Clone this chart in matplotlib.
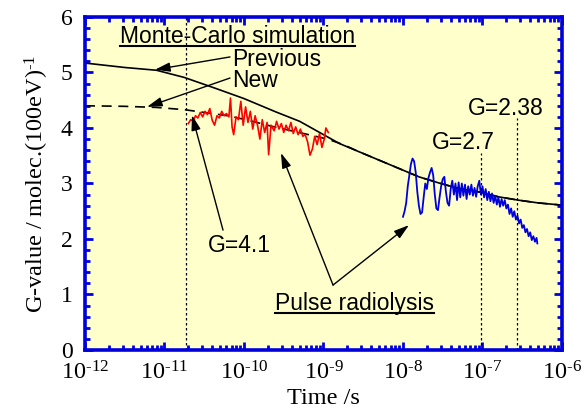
import numpy as np
import matplotlib
matplotlib.use("Agg")
import matplotlib.pyplot as plt
from matplotlib.ticker import LogLocator, MultipleLocator, FuncFormatter

plt.rcParams["font.family"] = ["Liberation Serif"]
plt.rcParams["mathtext.fontset"] = "custom"
plt.rcParams["mathtext.rm"] = "Liberation Serif"
plt.rcParams["mathtext.it"] = "Liberation Serif:italic"
plt.rcParams["axes.unicode_minus"] = False

# Monte-Carlo simulation curves (log10 of time, G-value)
prev_exp = [-12, -11.5, -11.1, -10.75, -10.35, -10.0, -9.6, -9.3, -9.05, -8.8, -8.55,
            -8.3, -8.05, -7.8, -7.55, -7.3, -7.05, -6.8, -6.55, -6.3, -6.0]
prev_g = [5.17, 5.09, 5.04, 4.91, 4.71, 4.53, 4.29, 4.12, 3.92, 3.72, 3.57,
          3.42, 3.27, 3.12, 3.01, 2.91, 2.85, 2.76, 2.70, 2.65, 2.61]

new_exp = [-12, -11.5, -11.1, -10.75, -10.5, -10.2, -9.95, -9.65, -9.25, -8.95, -8.75,
           -8.55, -8.3, -8.05, -7.8, -7.55, -7.3, -7.05, -6.8, -6.55, -6.3, -6.0]
new_g = [4.40, 4.39, 4.37, 4.33, 4.28, 4.22, 4.14, 4.03, 3.90, 3.80, 3.70,
         3.57, 3.42, 3.27, 3.12, 3.01, 2.91, 2.85, 2.76, 2.70, 2.65, 2.61]

# pulse radiolysis, ps range (red)
red_exp = [-10.70, -10.67, -10.64, -10.61, -10.58, -10.55, -10.52, -10.49, -10.46, -10.43,
           -10.40, -10.37, -10.34, -10.31, -10.28, -10.25, -10.22, -10.19, -10.17, -10.15,
           -10.13, -10.10, -10.07, -10.04, -10.01, -9.98, -9.95, -9.92, -9.89, -9.86,
           -9.83, -9.80, -9.77, -9.74, -9.71, -9.69, -9.66, -9.62, -9.59, -9.56,
           -9.53, -9.50, -9.47, -9.44, -9.41, -9.38, -9.35, -9.32, -9.29, -9.26,
           -9.23, -9.20, -9.17, -9.14, -9.11, -9.08, -9.05, -9.02, -8.99, -8.97, -8.94]
red_g = [4.08, 4.15, 4.12, 4.22, 4.18, 4.28, 4.20, 4.30, 4.24, 4.35,
         4.14, 4.05, 4.22, 4.18, 4.30, 4.22, 4.26, 4.20, 4.54, 4.02,
         3.88, 4.20, 4.15, 4.48, 4.05, 4.38, 4.10, 4.30, 3.98, 4.22,
         4.05, 3.80, 4.15, 3.92, 4.10, 3.52, 4.05, 3.95, 4.12, 3.98,
         4.08, 3.92, 4.05, 3.95, 4.10, 3.90, 4.02, 3.88, 3.98, 3.85,
         3.88, 3.75, 3.51, 3.62, 3.85, 3.70, 3.90, 3.65, 3.80, 4.00, 3.92]

# pulse radiolysis, ns range (blue)
blue_exp = [-8.00, -7.98, -7.96, -7.94, -7.92, -7.90, -7.88, -7.86, -7.84, -7.82,
            -7.80, -7.78, -7.76, -7.74, -7.72, -7.70, -7.68, -7.66, -7.64, -7.62,
            -7.60, -7.58, -7.56, -7.54, -7.52, -7.50, -7.48, -7.46, -7.44, -7.42,
            -7.40, -7.38, -7.36, -7.34, -7.32, -7.30, -7.28, -7.26, -7.24, -7.22,
            -7.20, -7.18, -7.16, -7.14, -7.12, -7.10, -7.08, -7.06, -7.04, -7.02,
            -7.00, -6.98, -6.96, -6.94, -6.92, -6.90, -6.88, -6.86, -6.84, -6.82,
            -6.80, -6.78, -6.76, -6.74, -6.72, -6.70, -6.68, -6.66, -6.64, -6.62,
            -6.60, -6.58, -6.56, -6.54, -6.52, -6.50, -6.48, -6.46, -6.44, -6.42,
            -6.40, -6.38, -6.36, -6.34, -6.32, -6.31]
blue_g = [2.40, 2.50, 2.65, 2.95, 3.15, 3.35, 3.45, 3.40, 3.20, 2.85,
          2.60, 2.45, 2.48, 2.75, 3.00, 2.90, 3.10, 3.20, 3.28, 3.15,
          2.80, 2.55, 2.52, 2.75, 2.95, 3.08, 3.12, 2.85, 2.65, 2.60,
          2.90, 3.05, 2.80, 3.00, 2.70, 3.02, 2.75, 3.00, 2.78, 2.98,
          2.72, 2.95, 2.80, 2.98, 2.78, 2.92, 2.76, 2.95, 3.05, 2.80,
          2.95, 2.75, 2.90, 2.70, 2.85, 2.68, 2.82, 2.65, 2.78, 2.62,
          2.75, 2.58, 2.72, 2.60, 2.70, 2.55, 2.62, 2.45, 2.55, 2.40,
          2.50, 2.35, 2.42, 2.28, 2.35, 2.20, 2.25, 2.12, 2.18, 2.05,
          2.12, 1.98, 2.05, 1.95, 2.02, 1.92]

# marker times for G values
t_start = 1.85e-11
t_g27 = 9.5e-8
t_g238 = 2.75e-7

fig = plt.figure(figsize=(5.87, 4.12), dpi=100)
ax = fig.add_axes([0.1448, 0.1505, 0.8126, 0.8083])
ax.set_facecolor("#FFFFCC")

ax.plot(10.0 ** np.array(prev_exp), prev_g, color="k", lw=1.2)
ax.plot(10.0 ** np.array(new_exp), new_g, color="k", lw=1.2, dashes=(6, 4))
ax.plot(10.0 ** np.array(red_exp), red_g, color="#FF0000", lw=1.2)
ax.plot(10.0 ** np.array(blue_exp), blue_g, color="#0000DD", lw=1.3)

ax.axvline(t_start, color="k", lw=0.9, ls=(0, (2, 2)))
ax.plot([t_g27, t_g27], [0, 3.55], color="k", lw=0.9, ls=(0, (2, 2)))
ax.plot([t_g238, t_g238], [0, 4.18], color="k", lw=0.9, ls=(0, (2, 2)))

ax.set_xscale("log")
ax.set_xlim(1e-12, 1e-6)
ax.set_ylim(0, 6)
ax.xaxis.set_major_locator(LogLocator(base=10, numticks=10))
ax.xaxis.set_minor_locator(LogLocator(base=10, subs=np.arange(2, 10), numticks=10))
ax.xaxis.set_major_formatter(FuncFormatter(lambda v, p: r"10$^{\text{%d}}$" % round(np.log10(v))))
ax.yaxis.set_major_locator(MultipleLocator(1))
ax.yaxis.set_minor_locator(MultipleLocator(0.2))

blue = "#0000DD"
for s in ax.spines.values():
    s.set_color(blue)
    s.set_linewidth(2.6)
ax.tick_params(which="both", direction="in", top=True, right=True, color=blue)
ax.tick_params(which="major", length=6, width=2.0)
ax.tick_params(which="minor", length=3.5, width=2.0)
ax.tick_params(axis="x", which="major", labelsize=17.5, pad=8)
ax.tick_params(axis="y", which="major", labelsize=17, pad=9)

ax.set_xlabel("Time /s", fontsize=17.5, labelpad=3)
ax.set_ylabel("G-value / molec.(100eV)$^{\\text{-1}}$", fontsize=17.5, labelpad=7)

sans = "Liberation Sans"
fs = 16.5
t_mc = ax.text(10 ** -11.56, 5.53, "Monte-Carlo simulation", fontsize=fs, family=sans, va="baseline")
ax.text(10 ** -10.15, 5.11, "Previous", fontsize=fs, family=sans, va="baseline")
ax.text(10 ** -10.15, 4.73, "New", fontsize=fs, family=sans, va="baseline")
ax.text(10 ** -10.453, 1.77, "G=4.1", fontsize=fs, family=sans, va="baseline")
t_pr = ax.text(10 ** -9.61, 0.72, "Pulse radiolysis", fontsize=fs, family=sans, va="baseline")
ax.text(10 ** -7.635, 3.63, "G=2.7", fontsize=fs, family=sans, va="baseline")
ax.text(10 ** -7.18, 4.23, "G=2.38", fontsize=fs, family=sans, va="baseline")

arrow = dict(arrowstyle="-|>,head_length=0.65,head_width=0.2", color="k", lw=1.0,
             shrinkA=0, shrinkB=0, mutation_scale=14)
ax.annotate("", xy=(10 ** -11.12, 5.05), xytext=(10 ** -10.176, 5.28), arrowprops=arrow)
ax.annotate("", xy=(10 ** -11.22, 4.38), xytext=(10 ** -10.176, 4.90), arrowprops=arrow)
ax.annotate("", xy=(10 ** -10.654, 4.23), xytext=(10 ** -10.264, 2.16), arrowprops=arrow)
ax.annotate("", xy=(10 ** -7.925, 2.25), xytext=(10 ** -8.88, 1.17), arrowprops=arrow)
ax.annotate("", xy=(10 ** -9.535, 3.55), xytext=(10 ** -8.88, 1.17), arrowprops=arrow)

# underline the two headings
fig.canvas.draw()
inv = ax.transAxes.inverted()
for t in (t_mc, t_pr):
    bb = t.get_window_extent()
    x0, _ = inv.transform((bb.x0, 0))
    x1, _ = inv.transform((bb.x1, 0))
    base = ax.transData.transform(t.get_position())[1] - 2.5
    _, yb = inv.transform((0, base))
    ax.plot([x0, x1], [yb, yb], color="k", lw=1.5, transform=ax.transAxes, clip_on=False)

fig.savefig("out.png", dpi=100)
